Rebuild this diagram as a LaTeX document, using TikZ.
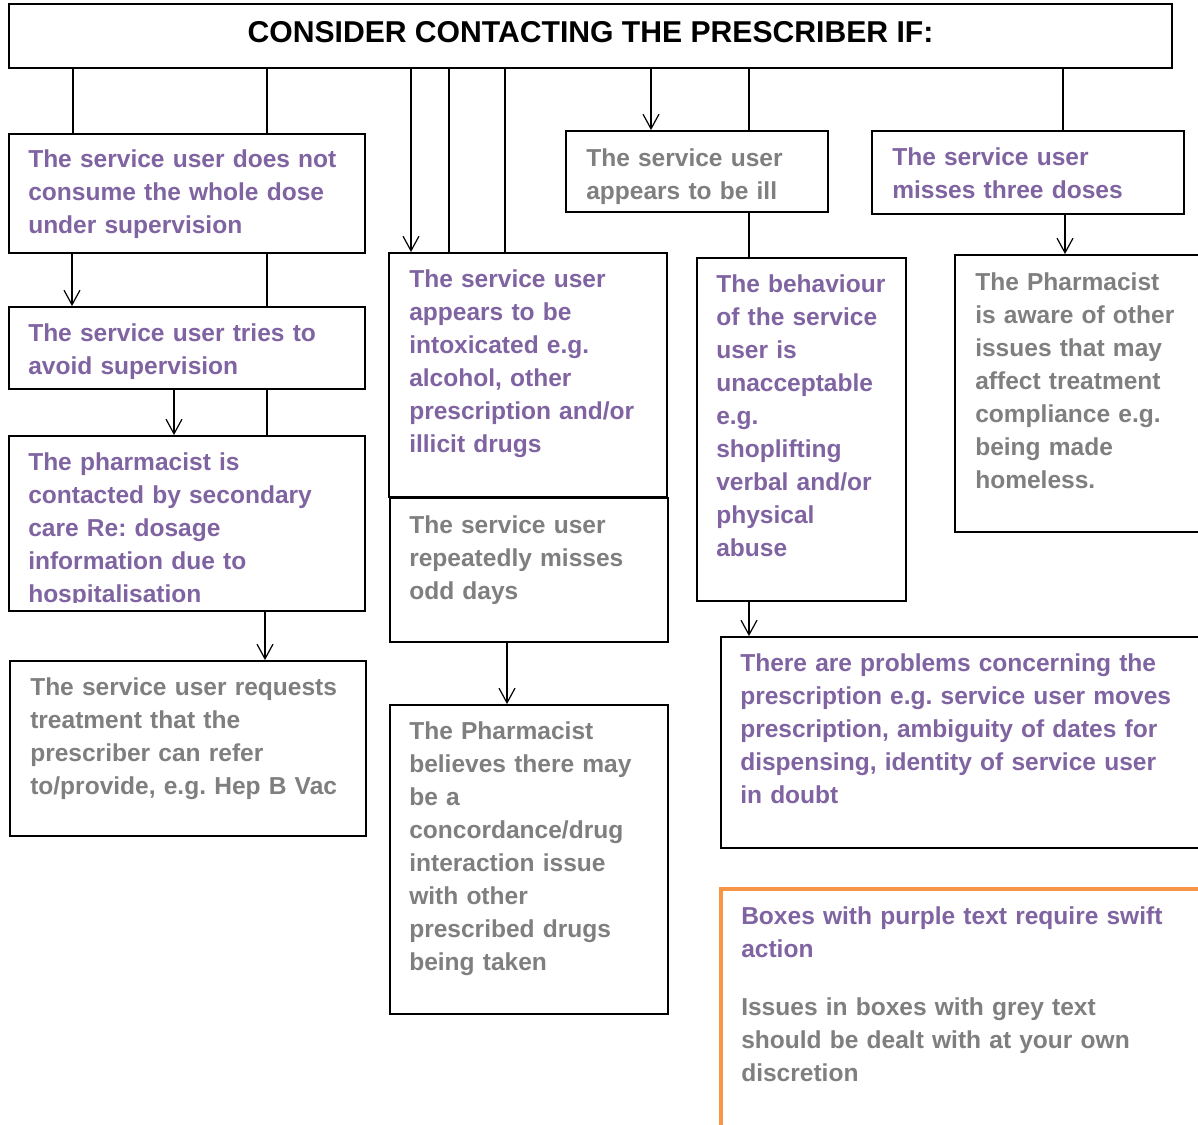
\documentclass[tikz,border=0pt]{standalone}
\usepackage{fontspec}
\setmainfont{Liberation Sans}
\usetikzlibrary{arrows.meta,fit}
\definecolor{pur}{HTML}{8064A2}
\definecolor{gry}{HTML}{7F7F7F}
\definecolor{org}{HTML}{F79646}
\frenchspacing
\newcommand\bodyfont{\fontsize{18.4pt}{24.75pt}\selectfont\bfseries\frenchspacing}
\tikzset{
  box/.style={draw=black, line width=1.4pt, inner sep=0pt, rectangle},
  conn/.style={draw=black, line width=1.1pt},
  arr/.style={conn, -{Straight Barb[length=11pt,width=12pt,line width=0.9pt]}},
  ptxt/.style={anchor=base west, inner sep=0pt, align=left, text width=#1, font=\bodyfont, text=pur},
  gtxt/.style={anchor=base west, inner sep=0pt, align=left, text width=#1, font=\bodyfont, text=gry},
}
\begin{document}
\begin{tikzpicture}[x=0.75pt,y=-0.75pt]
\useasboundingbox (0,0) rectangle (1198,1124);
\clip (0,0) rectangle (1198,1124);
\fill[white] (0,0) rectangle (1198,1124);

% x positions of connectors
\foreach \n/\v in {c73/73,c267/267,c411/411,c449/449,c505/505,c651/651,c749/749,c1063/1063,c72/72,c174/174,c265/265,c507/507,c1065/1065}
  \coordinate (\n) at (\v,0);

% boxes
\node[box, fit={(9,4)(1172,68)}] (top) {};
\node[anchor=base, inner sep=0pt, font=\fontsize{22.6pt}{26pt}\selectfont\bfseries] (title) at (590.5,43) {CONSIDER CONTACTING THE PRESCRIBER IF:};

\node[box, fit={(9,134)(365,253)}] (b1) {};
\node[ptxt=330pt] (b1t) at (28,167) {The service user does not\\consume the whole dose\\under supervision};

\node[box, fit={(9,307)(365,389)}] (b2) {};
\node[ptxt=330pt] (b2t) at (28,341) {The service user tries to\\avoid supervision};

\node[box, fit={(9,436)(365,611)}] (b3) {};
\begin{scope}
\clip (9,436) rectangle (365,602);
\node[ptxt=330pt] (b3t) at (28,470) {The pharmacist is\\contacted by secondary\\care Re: dosage\\information due to\\hospitalisation};
\end{scope}

\node[box, fit={(10,661)(366,836)}] (b4) {};
\node[gtxt=330pt] (b4t) at (30,695) {The service user requests\\treatment that the\\prescriber can refer\\to/provide, e.g. Hep B Vac};

\node[box, fit={(389,253)(667,497)}] (b5) {};
\node[ptxt=260pt] (b5t) at (409,287) {The service user\\appears to be\\intoxicated e.g.\\alcohol, other\\prescription and/or\\illicit drugs};

\node[box, fit={(390,498)(668,642)}] (b6) {};
\node[gtxt=260pt] (b6t) at (409,533) {The service user\\repeatedly misses\\odd days};

\node[box, fit={(390,705)(668,1014)}] (b7) {};
\node[gtxt=260pt] (b7t) at (409,739) {The Pharmacist\\believes there may\\be a\\concordance/drug\\interaction issue\\with other\\prescribed drugs\\being taken};

\node[box, fit={(566,131)(828,212)}] (b8) {};
\node[gtxt=250pt] (b8t) at (586,166) {The service user\\appears to be ill};

\node[box, fit={(697,258)(906,601)}] (b9) {};
\node[ptxt=200pt] (b9t) at (716,292) {The behaviour\\of the service\\user is\\unacceptable\\e.g.\\shoplifting\\verbal and/or\\physical\\abuse};

\node[box, fit={(721,637)(1215,848)}] (b10) {};
\node[ptxt=440pt] (b10t) at (740,671) {There are problems concerning the\\prescription e.g. service user moves\\prescription, ambiguity of dates for\\dispensing, identity of service user\\in doubt};

\node[box, fit={(872,131)(1184,214)}] (b11) {};
\node[ptxt=280pt] (b11t) at (892,165) {The service user\\misses three doses};

\node[box, fit={(955,255)(1215,532)}] (b12) {};
\node[gtxt=240pt] (b12t) at (975,290) {The Pharmacist\\is aware of other\\issues that may\\affect treatment\\compliance e.g.\\being made\\homeless.};

\node[draw=org, line width=3pt, inner sep=0pt, fit={(721,889)(1215,1140)}] (leg) {};
\node[ptxt=440pt] (legp) at (741,924) {Boxes with purple text require swift\\action};
\node[gtxt=440pt] (legg) at (741,1015) {Issues in boxes with grey text\\should be dealt with at your own\\discretion};

% connectors from the top box
\draw[conn] (top.south -| c73) -- (b1.north -| c73);
\draw[conn] (top.south -| c267) -- (b1.north -| c267);
\draw[arr] (top.south -| c411) -- (b5.north -| c411);
\draw[conn] (top.south -| c449) -- (b5.north -| c449);
\draw[conn] (top.south -| c505) -- (b5.north -| c505);
\draw[arr] (top.south -| c651) -- (b8.north -| c651);
\draw[conn] (top.south -| c749) -- (b8.north -| c749);
\draw[conn] (top.south -| c1063) -- (b11.north -| c1063);

% left column
\draw[arr] (b1.south -| c72) -- (b2.north -| c72);
\draw[conn] (b1.south -| c267) -- (b2.north -| c267);
\draw[arr] (b2.south -| c174) -- (b3.north -| c174);
\draw[conn] (b2.south -| c267) -- (b3.north -| c267);
\draw[arr] (b3.south -| c265) -- (b4.north -| c265);

% middle
\draw[arr] (b6.south -| c507) -- (b7.north -| c507);
\draw[conn] (b8.south -| c749) -- (b9.north -| c749);
\draw[arr] (b9.south -| c749) -- (b10.north -| c749);

% right
\draw[arr] (b11.south -| c1065) -- (b12.north -| c1065);
\end{tikzpicture}
\end{document}
